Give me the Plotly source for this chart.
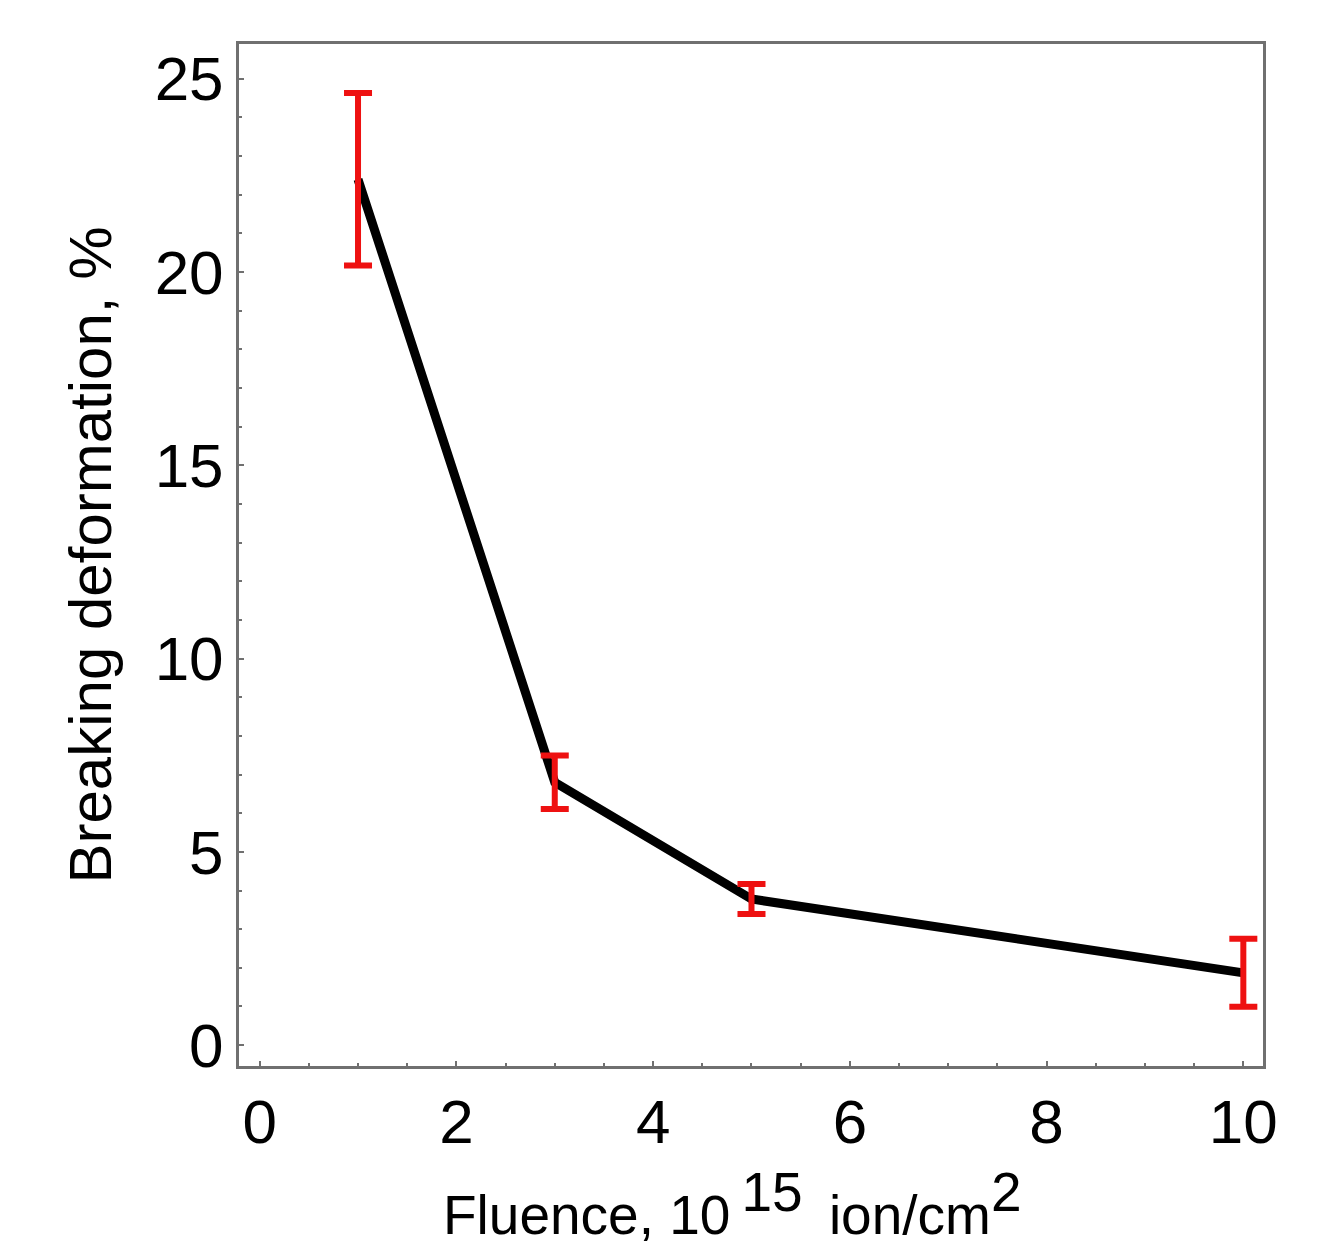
import plotly.graph_objects as go

# Data
fluence = [1, 3, 5, 10]
deformation = [22.4, 6.8, 3.78, 1.87]
deformation_err = [2.23, 0.69, 0.39, 0.88]

x_tick_vals = [0, 2, 4, 6, 8, 10]
y_tick_vals = [0, 5, 10, 15, 20, 25]

FONT = "Liberation Sans, Arial, sans-serif"
AXIS_GRAY = "#707070"
TITLE_SIZE = 55

fig = go.Figure()

fig.add_trace(go.Scatter(
    x=fluence, y=deformation, mode="lines",
    line=dict(color="black", width=9),
    showlegend=False, hoverinfo="skip",
))

fig.add_trace(go.Scatter(
    x=fluence, y=deformation, mode="markers",
    marker=dict(size=1, color="rgba(0,0,0,0)"),
    error_y=dict(type="data", array=deformation_err, visible=True,
                 color="#ee1111", thickness=6, width=14),
    showlegend=False,
))

axis_common = dict(
    showgrid=False, zeroline=False,
    showline=True, mirror=True, linecolor=AXIS_GRAY, linewidth=3,
    ticks="inside", ticklen=5, tickwidth=2, tickcolor=AXIS_GRAY,
    tickfont=dict(family=FONT, size=62, color="black"),
)

sup_style = f'<span style="font-size:{TITLE_SIZE}px">'
x_title = (f"Fluence, 10\u2009<sup>{sup_style}15</span></sup>\u00a0\u2009ion/cm"
           f"<sup>{sup_style}2</span></sup>")

fig.update_xaxes(
    **axis_common,
    range=[-0.21, 10.2],
    tickvals=x_tick_vals,
    minor=dict(dtick=0.5, ticks="inside", ticklen=3, tickwidth=2, tickcolor=AXIS_GRAY),
)

fig.update_yaxes(
    **axis_common,
    range=[-0.54, 25.9],
    tickvals=y_tick_vals,
    minor=dict(dtick=1, ticks="inside", ticklen=3, tickwidth=2, tickcolor=AXIS_GRAY),
    title=dict(text="Breaking deformation, %",
               font=dict(family=FONT, size=60, color="black"), standoff=24),
)

# x-axis title as an annotation so it can sit slightly left of centre like the reference
fig.add_annotation(
    text=x_title, xref="paper", yref="paper",
    x=0.482, y=-0.178, xanchor="center", yanchor="bottom",
    showarrow=False, font=dict(family=FONT, size=TITLE_SIZE, color="black"),
)

fig.update_layout(
    width=1322, height=1244,
    margin=dict(l=231, r=67, t=36, b=186),
    paper_bgcolor="white", plot_bgcolor="white",
)

fig.write_html("out.html")
